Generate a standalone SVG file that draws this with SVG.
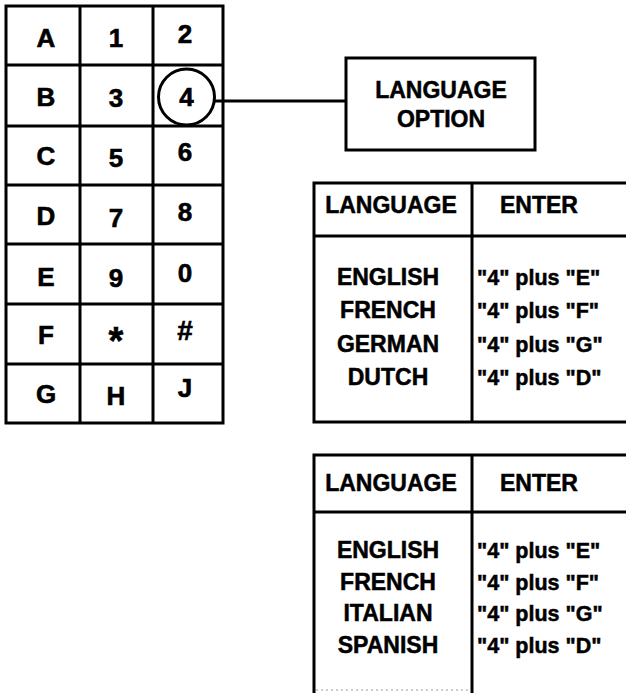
<svg xmlns="http://www.w3.org/2000/svg" width="626" height="693" viewBox="0 0 626 693">
<style>
.ln{stroke:#000;stroke-width:3;fill:none}
.key{font-family:"Liberation Sans",Arial,sans-serif;font-weight:bold;font-size:26px;text-anchor:middle;fill:#000;stroke:#000;stroke-width:0.6}
.lbl{font-family:"Liberation Sans",Arial,sans-serif;font-weight:bold;font-size:23px;text-anchor:middle;fill:#000;stroke:#000;stroke-width:0.5}
.cmd{font-family:"Liberation Sans",Arial,sans-serif;font-weight:bold;font-size:21.5px;text-anchor:start;fill:#000;stroke:#000;stroke-width:0.5}
</style>
<rect width="626" height="693" fill="#fff"/>
<g id="keypad">
<rect class="ln" x="6" y="6" width="217" height="417"/>
<path class="ln" d="M80 6V423M153 6V423M6 65H223M6 126H223M6 185H223M6 244H223M6 304H223M6 364H223"/>
<g class="key">
<text x="46" y="47">A</text><text x="116" y="47">1</text><text x="185" y="43">2</text>
<text x="46" y="106">B</text><text x="116" y="107">3</text>
<text x="46" y="165">C</text><text x="116" y="167">5</text><text x="185" y="161">6</text>
<text x="46" y="225">D</text><text x="116" y="227">7</text><text x="185" y="221">8</text>
<text x="46" y="286">E</text><text x="116" y="287">9</text><text x="185" y="282">0</text>
<text x="46" y="344">F</text><text x="116" y="354" font-size="38">*</text><text x="185" y="340" font-size="28">#</text>
<text x="46" y="403">G</text><text x="116" y="405">H</text><text x="185" y="397">J</text>
</g>
</g>
<g id="key4">
<circle class="ln" cx="186.5" cy="97" r="28"/>
<text class="key" x="186.5" y="106">4</text>
</g>
<g id="connectors">
<line class="ln" x1="214" y1="101" x2="346" y2="101"/>
</g>
<g id="language-option">
<rect class="ln" x="346" y="58" width="189" height="92"/>
<text class="lbl" x="441" y="98" font-size="25">LANGUAGE</text>
<text class="lbl" x="441" y="127" font-size="25">OPTION</text>
</g>
<g id="table1">
<path class="ln" d="M626 183H314V422H626M314 236H626M472 183V422"/>
<text class="lbl" x="391" y="213">LANGUAGE</text>
<text class="lbl" x="539" y="213">ENTER</text>
<text class="lbl" x="388" y="285">ENGLISH</text>
<text class="lbl" x="388" y="318">FRENCH</text>
<text class="lbl" x="388" y="352">GERMAN</text>
<text class="lbl" x="388" y="385">DUTCH</text>
<text class="cmd" x="477" y="285">"4" plus "E"</text>
<text class="cmd" x="477" y="318">"4" plus "F"</text>
<text class="cmd" x="477" y="352">"4" plus "G"</text>
<text class="cmd" x="477" y="385">"4" plus "D"</text>
</g>
<g id="table2">
<path class="ln" d="M626 455H314V693M314 512H626M472 455V693"/>
<line x1="316" y1="690" x2="470" y2="690" stroke="#999" stroke-width="1" stroke-dasharray="2 3"/>
<text class="lbl" x="391" y="491">LANGUAGE</text>
<text class="lbl" x="539" y="491">ENTER</text>
<text class="lbl" x="388" y="558">ENGLISH</text>
<text class="lbl" x="388" y="590">FRENCH</text>
<text class="lbl" x="388" y="621">ITALIAN</text>
<text class="lbl" x="388" y="653">SPANISH</text>
<text class="cmd" x="477" y="558">"4" plus "E"</text>
<text class="cmd" x="477" y="590">"4" plus "F"</text>
<text class="cmd" x="477" y="621">"4" plus "G"</text>
<text class="cmd" x="477" y="653">"4" plus "D"</text>
</g>
</svg>
